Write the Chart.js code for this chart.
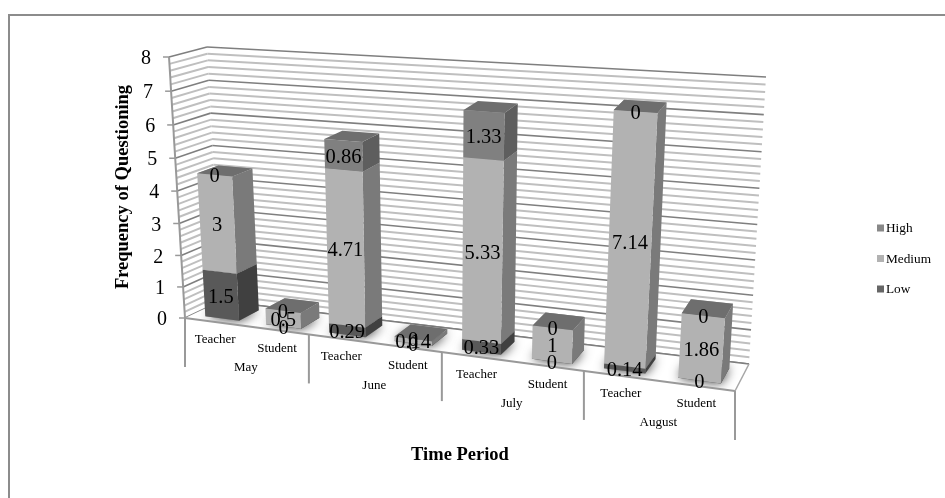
<!DOCTYPE html>
<html>
<head>
<meta charset="utf-8">
<style>
  html, body { margin: 0; padding: 0; background: #fff; }
  canvas { display: block; }
</style>
<script src="https://cdn.jsdelivr.net/npm/chart.js@4"></script>
</head>
<body>
<canvas id="chart" width="945" height="498"></canvas>
<script>
// ── Data ──────────────────────────────────────────────
const categories   = ['Teacher', 'Student', 'Teacher', 'Student', 'Teacher', 'Student', 'Teacher', 'Student'];
const months       = ['May', 'June', 'July', 'August'];
const lowValues    = [1.5, 0, 0.29, 0, 0.33, 0, 0.14, 0];
const mediumValues = [3, 0.5, 4.71, 0.14, 5.33, 1, 7.14, 1.86];
const highValues   = [0, 0, 0.86, 0, 1.33, 0, 0, 0];
const yTickLabels  = ['0', '1', '2', '3', '4', '5', '6', '7', '8'];

const FONT = '"Liberation Serif", serif';
const TEXT = '#000000';

// front / side / top shades of each series
const SHADES = {
  Low:    { front: '#595959', side: '#404040', top: '#4c4c4c' },
  Medium: { front: '#b2b2b2', side: '#7a7a7a', top: '#999999' },
  High:   { front: '#808080', side: '#5e5e5e', top: '#6e6e6e' },
};

// Corners of the 3D box on the page (front/back, bottom/top, left/right)
const BOX = {
  fbl: [185, 318], fbr: [735, 391], ftl: [169, 57], ftr: [755, 96],
  bbl: [221, 301], bbr: [749, 364], btl: [207, 47], btr: [766, 77],
};
const BAR_W0 = 0.2, BAR_W1 = 0.78;   // bar depth inside the box

const lerp = (a, b, t) => [a[0] + (b[0] - a[0]) * t, a[1] + (b[1] - a[1]) * t];

// u across, v up, w into the page, all 0..1
function project(u, v, w) {
  const f = 0.868 * u + 0.132 * u * u;   // categories get wider towards the right
  const g = v - 0.055 * v * (1 - v);     // and the upper units a little taller
  const bottom = lerp(lerp(BOX.fbl, BOX.fbr, f), lerp(BOX.bbl, BOX.bbr, f), w);
  const top    = lerp(lerp(BOX.ftl, BOX.ftr, f), lerp(BOX.btl, BOX.btr, f), w);
  return lerp(bottom, top, g);
}

function poly(ctx, pts, fill) {
  ctx.beginPath();
  pts.forEach((p, i) => i ? ctx.lineTo(p[0], p[1]) : ctx.moveTo(p[0], p[1]));
  ctx.closePath();
  if (fill) { ctx.fillStyle = fill; ctx.fill(); }
}

function line(ctx, a, b, color, width) {
  ctx.beginPath();
  ctx.moveTo(a[0], a[1]);
  ctx.lineTo(b[0], b[1]);
  ctx.strokeStyle = color;
  ctx.lineWidth = width;
  ctx.stroke();
}

function label(ctx, text, x, y, font, align = 'center') {
  ctx.font = font;
  ctx.fillStyle = TEXT;
  ctx.textAlign = align;
  ctx.textBaseline = 'middle';
  ctx.fillText(text, x, y);
}

// ── Draws walls, floor and boxes through the chart's scales ──
const bar3dPlugin = {
  id: 'bar3d',
  beforeDatasetsDraw(chart) {
    const { ctx, scales: { x: xs, y: ys } } = chart;
    const U = px => (px - xs.left) / xs.width;
    const V = py => (ys.bottom - py) / ys.height;

    ctx.save();

    // frame: only the top and left edges show
    line(ctx, [9, 15], [945, 15], '#8c8c8c', 2);
    line(ctx, [9, 14], [9, 498], '#8c8c8c', 2);

    // gridlines on the side wall and the back wall
    ys.ticks.forEach(t => {
      const val = Math.round(t.value * 1000) / 1000;
      const major = Number.isInteger(val);
      const v = V(ys.getPixelForValue(val));
      const color = major ? '#7f7f7f' : '#bfbfbf';
      const width = major ? 1.6 : 2;
      const a = project(0, v, 0), b = project(0, v, 1), c = project(1, v, 1);
      line(ctx, a, b, color, width);
      line(ctx, b, c, color, width);
      if (major) line(ctx, a, [a[0] - 6, a[1]], '#999999', 1.5);
    });

    // floor
    poly(ctx, [BOX.fbl, BOX.fbr, BOX.bbr, BOX.bbl], '#ffffff');
    line(ctx, BOX.bbl, BOX.bbr, '#7f7f7f', 1.6);

    const metas = chart.getSortedVisibleDatasetMetas();

    // soft shadow on the floor under each column, kept inside the floor
    ctx.save();
    poly(ctx, [BOX.fbl, BOX.fbr, BOX.bbr, BOX.bbl]);
    ctx.clip();
    metas[0].data.forEach(el => {
      const u0 = U(el.x - el.width / 2), u1 = U(el.x + el.width / 2);
      ctx.shadowColor = 'rgba(0,0,0,0.8)';
      ctx.shadowBlur = 11;
      poly(ctx, [project(u0, 0, BAR_W0), project(u1, 0, BAR_W0), project(u1, 0, BAR_W1), project(u0, 0, BAR_W1)], '#8c8c8c');
    });
    ctx.restore();

    line(ctx, BOX.fbl, BOX.fbr, '#999999', 2);
    line(ctx, BOX.fbr, BOX.bbr, '#a6a6a6', 1.5);

    // y axis and its labels
    line(ctx, project(0, 0, 0), project(0, 1, 0), '#999999', 2);
    yTickLabels.forEach(txt => {
      const p = project(0, V(ys.getPixelForValue(+txt)), 0);
      label(ctx, txt, p[0] - 18, p[1] + 2, '20px ' + FONT, 'right');
    });

    // columns, left to right and bottom to top
    const labels = [];
    categories.forEach((_, i) => {
      metas.forEach(meta => {
        const el = meta.data[i];
        const s = SHADES[meta.label];
        const u0 = U(el.x - el.width / 2), u1 = U(el.x + el.width / 2);
        const v0 = V(el.base), v1 = V(el.y);
        poly(ctx, [project(u1, v0, BAR_W0), project(u1, v0, BAR_W1), project(u1, v1, BAR_W1), project(u1, v1, BAR_W0)], s.side);
        poly(ctx, [project(u0, v0, BAR_W0), project(u1, v0, BAR_W0), project(u1, v1, BAR_W0), project(u0, v1, BAR_W0)], s.front);
        poly(ctx, [project(u0, v1, BAR_W0), project(u1, v1, BAR_W0), project(u1, v1, BAR_W1), project(u0, v1, BAR_W1)], s.top);
        const p = project((u0 + u1) / 2, (v0 + v1) / 2, BAR_W0);
        labels.push([String(chart.data.datasets[meta.index].data[i]), p[0], p[1] + 2]);
      });
    });
    labels.forEach(l => label(ctx, l[0], l[1], l[2], '20.5px ' + FONT));

    // category labels and group dividers
    categories.forEach((c, i) => {
      const p = project(U(metas[0].data[i].x), 0, 0);
      label(ctx, c, p[0], p[1] + 18, '13px ' + FONT);
    });
    months.forEach((m, i) => {
      const a = U(metas[0].data[i * 2].x), b = U(metas[0].data[i * 2 + 1].x);
      const p = project((a + b) / 2, 0, 0);
      label(ctx, m, p[0], p[1] + 42, '13px ' + FONT);
    });
    for (let i = 0; i <= months.length; i++) {
      const p = project(i / months.length, 0, 0);
      line(ctx, p, [p[0], p[1] + 49], '#999999', 2);
    }

    // axis titles
    label(ctx, 'Time Period', 460, 455, 'bold 18.5px ' + FONT);
    ctx.save();
    ctx.translate(123, 187);
    ctx.rotate(-Math.PI / 2);
    label(ctx, 'Frequency of Questioning', 0, 0, 'bold 18.5px ' + FONT);
    ctx.restore();

    // legend
    [...metas].reverse().forEach((meta, i) => {
      const y = 228 + i * 30.5;
      ctx.fillStyle = chart.data.datasets[meta.index].backgroundColor;
      ctx.fillRect(877, y - 3.5, 7, 7);
      label(ctx, meta.label, 886, y + 1, '13.3px ' + FONT, 'left');
    });

    ctx.restore();
    return false;   // the stock flat bars are not drawn
  },
};

new Chart(document.getElementById('chart').getContext('2d'), {
  type: 'bar',
  data: {
    labels: categories,
    datasets: [
      { label: 'Low',    data: lowValues,    backgroundColor: '#666666' },
      { label: 'Medium', data: mediumValues, backgroundColor: '#b2b2b2' },
      { label: 'High',   data: highValues,   backgroundColor: '#888888' },
    ],
  },
  options: {
    responsive: false,
    animation: false,
    categoryPercentage: 0.56,
    barPercentage: 1,
    plugins: { legend: { display: false }, tooltip: { enabled: false } },
    scales: {
      x: { stacked: true, display: false },
      y: { stacked: true, display: false, min: 0, max: 8, ticks: { stepSize: 0.2, autoSkip: false } },
    },
  },
  plugins: [bar3dPlugin],
});
</script>
</body>
</html>
